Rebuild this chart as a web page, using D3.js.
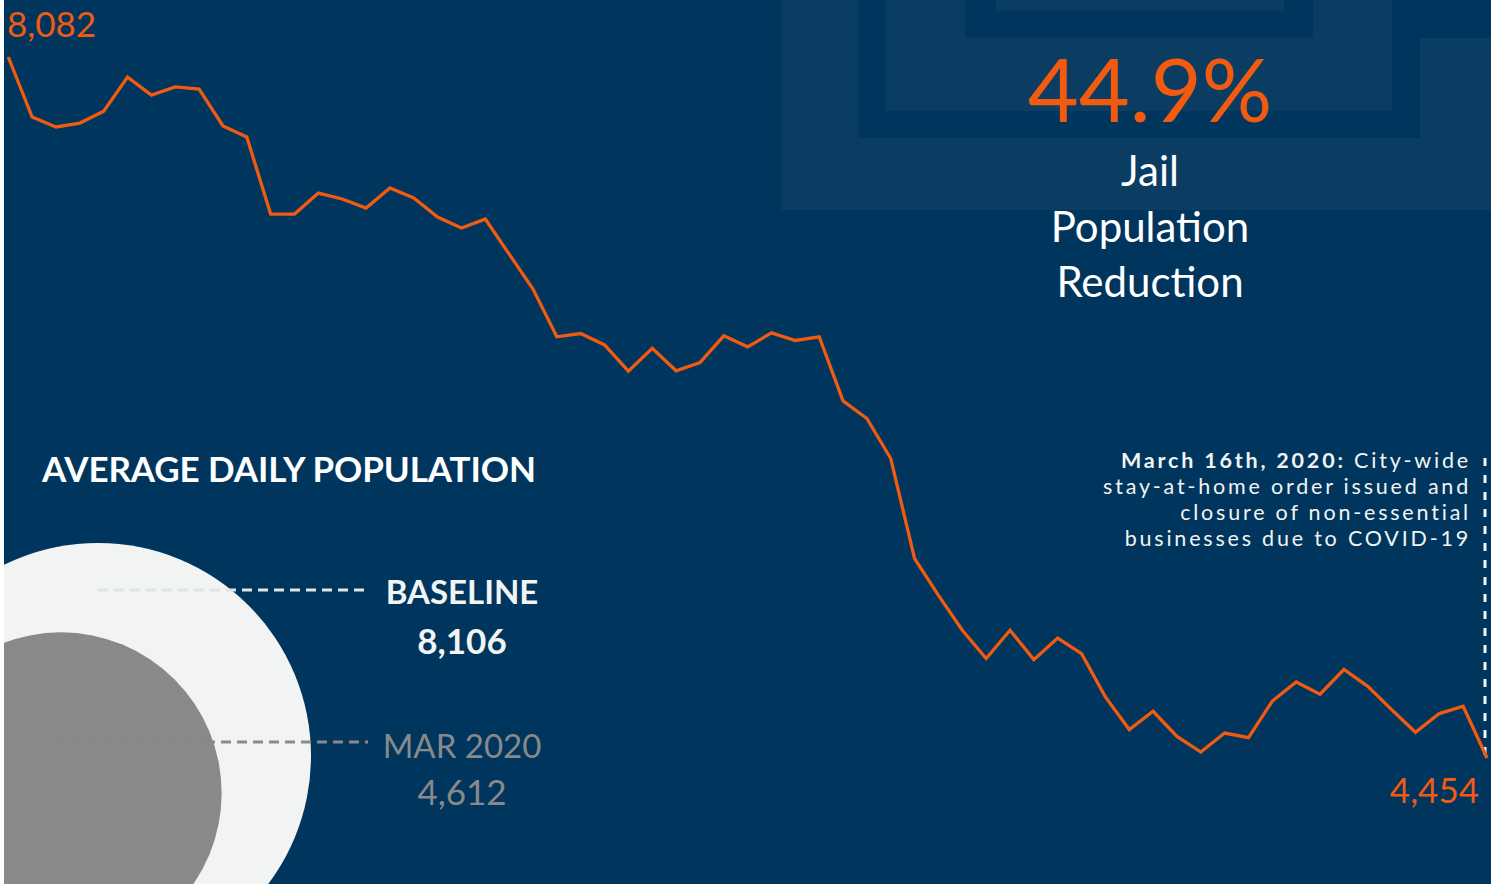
<!DOCTYPE html>
<html>
<head>
<meta charset="utf-8">
<script src="https://cdn.jsdelivr.net/npm/d3@7"></script>
<style>
  html, body { margin: 0; padding: 0; background: #ffffff; }
  svg { display: block; }
  text { font-family: Lato, "Open Sans", sans-serif; }
</style>
</head>
<body>
<svg id="chart" width="1497" height="884"></svg>
<script>
// ---------- DATA ----------
const months = d3.timeMonth.range(new Date(2015, 0, 1), new Date(2020, 3, 1)); // Jan 2015 .. Mar 2020
const population = [8082,7771,7720,7740,7802,7978,7885,7927,7916,7725,7668,7269,7269,7378,7347,7300,
  7404,7352,7254,7197,7243,7062,6881,6634,6651,6592,6456,6574,6458,6501,6639,6582,6654,6615,6634,
  6302,6211,6004,5486,5296,5115,4969,5115,4963,5075,4994,4770,4601,4696,4566,4485,4583,4559,4749,
  4847,4784,4912,4825,4704,4587,4684,4722,4454];
const circleLabels = ["BASELINE", "MAR 2020"];
const circleValues = [8106, 4612];
const titleText = "AVERAGE DAILY POPULATION";
const reductionLines = ["Jail", "Population", "Reduction"];
const noteBold = "March 16th, 2020:";
const noteLines = [" City-wide", "stay-at-home order issued and", "closure of non-essential", "businesses due to COVID-19"];

// ---------- SETUP ----------
const W = 1497, H = 884;
const NAVY = "#00365e", NAVY_LIGHT = "#0b3d63", ORANGE = "#f25a10", OFFWHITE = "#f2f4f3", GRAY = "#898989";
const svg = d3.select("#chart");

const defs = svg.append("defs");
defs.append("clipPath").attr("id", "area")
  .append("rect").attr("x", 4).attr("y", 0).attr("width", 1487).attr("height", H);

const g = svg.append("g").attr("clip-path", "url(#area)");
g.append("rect").attr("x", 4).attr("y", 0).attr("width", 1487).attr("height", H).attr("fill", NAVY);

// decorative background squares (top right)
const deco = [
  {x: 781, y: -10, w: 720, h: 220, c: NAVY_LIGHT},
  {x: 858, y: -10, w: 562, h: 148, c: NAVY},
  {x: 1420, y: -10, w: 90, h: 48, c: NAVY},
  {x: 886, y: -10, w: 506, h: 121, c: NAVY_LIGHT},
  {x: 965, y: -10, w: 348, h: 47, c: NAVY},
  {x: 996, y: -10, w: 288, h: 21, c: NAVY_LIGHT}
];
g.selectAll("rect.deco").data(deco).join("rect").attr("class", "deco")
  .attr("x", d => d.x).attr("y", d => d.y).attr("width", d => d.w).attr("height", d => d.h)
  .attr("fill", d => d.c);

// ---------- LINE ----------
const x = d3.scaleLinear().domain([0, population.length - 1]).range([8.3, 1487]);
const y = d3.scaleLinear().domain([d3.min(population), d3.max(population)]).range([758, 57]);
const data = population.map((v, i) => ({date: months[i], i, v}));
const line = d3.line().x(d => x(d.i)).y(d => y(d.v));

const last = data[data.length - 1];
g.append("line")
  .attr("x1", x(last.i) - 2).attr("x2", x(last.i) - 2)
  .attr("y1", 458).attr("y2", y(last.v))
  .attr("stroke", OFFWHITE).attr("stroke-width", 3).attr("stroke-dasharray", "8,9");

g.append("path").datum(data).attr("d", line)
  .attr("fill", "none").attr("stroke", ORANGE).attr("stroke-width", 3.3)
  .attr("stroke-linejoin", "miter");

const fmt = d3.format(",");
g.append("text").attr("x", 7).attr("y", 37).attr("fill", ORANGE)
  .attr("font-size", 35).attr("font-weight", 400).text(fmt(data[0].v));
g.append("text").attr("x", 1479).attr("y", 803).attr("fill", ORANGE).attr("text-anchor", "end")
  .attr("font-size", 35).attr("font-weight", 400).text(fmt(last.v));

// ---------- REDUCTION ----------
const pct = (data[0].v - last.v) / data[0].v;
g.append("text").attr("x", 1150).attr("y", 122).attr("text-anchor", "middle")
  .attr("fill", ORANGE).attr("font-size", 88).attr("font-weight", 400)
  .text(d3.format(".1%")(pct));
g.selectAll("text.red").data(reductionLines).join("text").attr("class", "red")
  .attr("x", 1150).attr("y", (d, i) => 186 + i * 55.5).attr("text-anchor", "middle")
  .attr("fill", "#ffffff").attr("font-size", 42).text(d => d);

// ---------- NOTE (one text block, one tspan per line) ----------
const note = g.append("text").attr("fill", OFFWHITE).attr("font-size", 21.5)
  .attr("letter-spacing", 2.8).attr("text-anchor", "end");
note.append("tspan").attr("x", 1471).attr("y", 468).attr("font-weight", 700).text(noteBold);
note.append("tspan").text(noteLines[0]);
noteLines.slice(1).forEach((t, i) => {
  note.append("tspan").attr("x", 1471).attr("y", 494 + i * 26).text(t);
});

// ---------- CIRCLES ----------
g.append("text").attr("x", 42).attr("y", 482).attr("fill", "#ffffff")
  .attr("font-size", 35).attr("font-weight", 700).attr("letter-spacing", -0.1).text(titleText);

const r = d3.scaleSqrt().domain([0, d3.max(circleValues)]).range([0, 213]);
const bigC = {x: 98, y: 756};
const R0 = r(circleValues[0]), R1 = r(circleValues[1]);
const off = (R0 - R1) / Math.SQRT2;
const centers = [bigC, {x: bigC.x - off, y: bigC.y + off}];
const fills = [OFFWHITE, GRAY];

defs.append("mask").attr("id", "outsideBig").call(m => {
  m.append("rect").attr("x", 0).attr("y", 0).attr("width", W).attr("height", H).attr("fill", "#fff");
  m.append("circle").attr("cx", bigC.x).attr("cy", bigC.y).attr("r", R0).attr("fill", "#000");
});

g.selectAll("circle.bub").data(circleValues).join("circle").attr("class", "bub")
  .attr("cx", (d, i) => centers[i].x).attr("cy", (d, i) => centers[i].y)
  .attr("r", d => r(d)).attr("fill", (d, i) => fills[i]);

const leadY = [590, 742];
const leadCol = ["#dfe4e4", GRAY];
g.selectAll("line.lead").data(circleValues).join("line").attr("class", "lead")
  .attr("x1", (d, i) => centers[i].x).attr("x2", 368)
  .attr("y1", (d, i) => leadY[i]).attr("y2", (d, i) => leadY[i])
  .attr("stroke", (d, i) => leadCol[i]).attr("stroke-width", 3).attr("stroke-dasharray", "10,6");
g.append("line").attr("x1", bigC.x).attr("x2", 368)
  .attr("y1", leadY[0]).attr("y2", leadY[0]).attr("mask", "url(#outsideBig)")
  .attr("stroke", OFFWHITE).attr("stroke-width", 3).attr("stroke-dasharray", "10,6");

const labCols = [OFFWHITE, GRAY];
const labW = [700, 400];
const labY = [[604, 654], [758, 805]];
circleValues.forEach((v, i) => {
  g.append("text").attr("x", 462).attr("y", labY[i][0]).attr("text-anchor", "middle")
    .attr("fill", labCols[i]).attr("font-size", 33).attr("font-weight", labW[i]).text(circleLabels[i]);
  g.append("text").attr("x", 462).attr("y", labY[i][1]).attr("text-anchor", "middle")
    .attr("fill", labCols[i]).attr("font-size", 35).attr("font-weight", labW[i]).text(fmt(v));
});
</script>
</body>
</html>
